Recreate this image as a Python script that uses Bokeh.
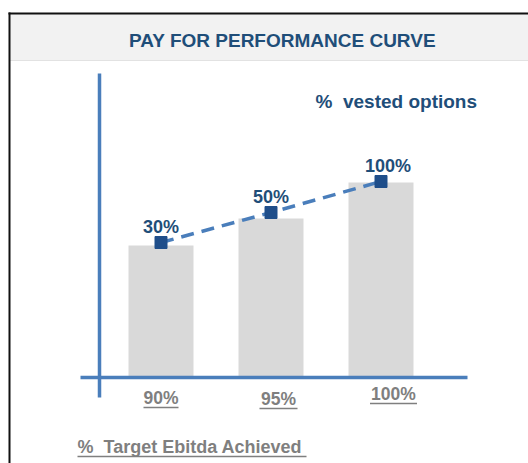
from bokeh.plotting import figure
from bokeh.models import Range1d
from bokeh.core.properties import value
from bokeh.embed import file_html
from bokeh.resources import INLINE

# ---- data ----
ebitda_labels = ["90%", "95%", "100%"]          # % target EBITDA achieved
vested_labels = ["30%", "50%", "100%"]          # % vested options
bar_heights = [66, 79.5, 97.5]                  # bar heights (chart units)
marker_heights = [67.5, 82.5, 98]               # curve points (chart units)

title = "PAY FOR PERFORMANCE CURVE"
series_title = "%\u00a0 vested options"
x_title = "%\u00a0 Target Ebitda Achieved"

# ---- layout helpers (page pixel -> chart units) ----
W, H = 528, 463
SLOT = 110.0          # px per category
X0 = 160.5            # px centre of first category
BASE = 377.0          # px of the baseline
YU = 2.0              # px per chart unit
TXT = 7.0             # px correction for rendered text baseline


def px_x(px):
    return (px - X0) / SLOT


def px_y(py):
    return (BASE - py) / YU


def tx_y(py):
    return px_y(py - TXT)


FONT = value("Liberation Sans")
NAVY = "#1f4e79"
BLUE = "#4a7ebb"
GREY = "#7f7f7f"

p = figure(width=W, height=H,
           x_range=Range1d(px_x(0), px_x(W)),
           y_range=Range1d(px_y(H), px_y(0)),
           output_backend="svg", toolbar_location=None, min_border=0)
p.axis.visible = False
p.grid.visible = False
p.outline_line_color = None
p.background_fill_color = "white"
p.border_fill_color = "white"

# header band
p.quad(left=px_x(9), right=px_x(540), top=px_y(13), bottom=px_y(60),
       fill_color="#f2f2f2", line_color=None)
p.segment(x0=px_x(9), x1=px_x(540), y0=px_y(60), y1=px_y(60),
          line_color="#e2e2e2", line_width=1)
# box border (left + top)
p.segment(x0=[px_x(9), px_x(8)], x1=[px_x(9), px_x(540)],
          y0=[px_y(12), px_y(13)], y1=[px_y(480), px_y(13)],
          line_color="#111111", line_width=2)

p.text(x=[px_x(282)], y=[tx_y(47)], text=[title], text_font=FONT,
       text_font_style="bold", text_font_size="19px", text_color=NAVY,
       text_align="center", text_baseline="alphabetic")

# bars
xs = list(range(len(ebitda_labels)))
p.vbar(x=xs, top=bar_heights, bottom=0, width=65 / SLOT,
       fill_color="#d9d9d9", line_color=None)

# axes lines
p.segment(x0=px_x(99), x1=px_x(99), y0=px_y(73), y1=px_y(397),
          line_color=BLUE, line_width=3.5)
p.segment(x0=px_x(80), x1=px_x(467), y0=0, y1=0,
          line_color=BLUE, line_width=3.5)

# dashed curve + markers
p.line(x=xs, y=marker_heights, line_color=BLUE, line_width=3.5,
       line_dash="13 8")
p.scatter(x=xs, y=marker_heights, marker="square", size=12,
          fill_color="#1f4e8a", line_color="#1f4e8a")

# value labels
label_dx = [0, 0, 7 / SLOT]
p.text(x=[x + d for x, d in zip(xs, label_dx)],
       y=[m + (8.5 + TXT) / YU for m in marker_heights], text=vested_labels,
       text_font=FONT, text_font_style="bold", text_font_size="18px",
       text_color=NAVY, text_align="center", text_baseline="alphabetic")

p.text(x=[px_x(315)], y=[tx_y(108)], text=[series_title], text_font=FONT,
       text_font_style="bold", text_font_size="19px", text_color=NAVY,
       text_align="left", text_baseline="alphabetic")

# x category labels (underlined)
tick_dx = [0, 7.5 / SLOT, 12.5 / SLOT]
tick_base_px = [404, 405, 400]
tick_half = [17.5, 19, 23.5]
tx = [x + d for x, d in zip(xs, tick_dx)]
p.text(x=tx, y=[tx_y(b) for b in tick_base_px], text=ebitda_labels,
       text_font=FONT, text_font_style="bold", text_font_size="17.5px",
       text_color=GREY, text_align="center", text_baseline="alphabetic")
p.segment(x0=[x - h / SLOT for x, h in zip(tx, tick_half)],
          x1=[x + h / SLOT for x, h in zip(tx, tick_half)],
          y0=[px_y(b + 3) for b in tick_base_px],
          y1=[px_y(b + 3) for b in tick_base_px],
          line_color=GREY, line_width=1.5)

# x title (underlined)
p.text(x=[px_x(77)], y=[tx_y(453)], text=[x_title], text_font=FONT,
       text_font_style="bold", text_font_size="18px", text_color=GREY,
       text_align="left", text_baseline="alphabetic")
p.segment(x0=px_x(77), x1=px_x(306), y0=px_y(456), y1=px_y(456),
          line_color=GREY, line_width=1.5)

open("out.html", "w").write(file_html(p, INLINE))
